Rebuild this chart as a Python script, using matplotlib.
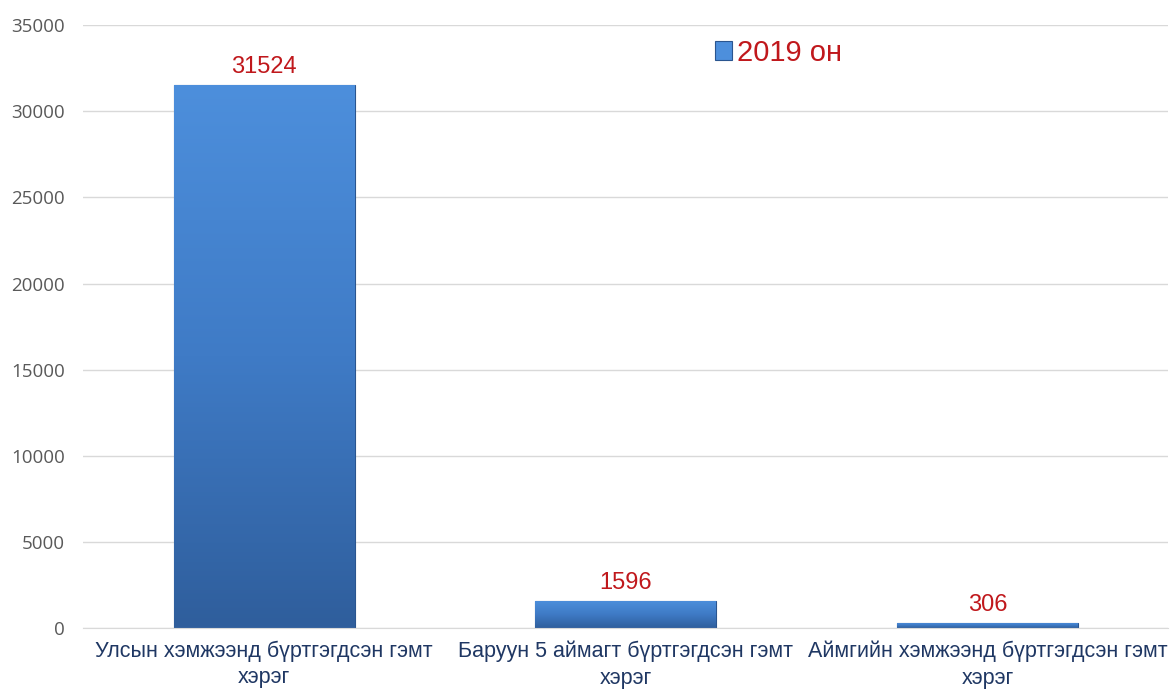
import numpy as np
import matplotlib.pyplot as plt
from matplotlib.colors import LinearSegmentedColormap

# Data
categories = ["Улсын хэмжээнд бүртгэгдсэн гэмт\nхэрэг",
              "Баруун 5 аймагт бүртгэгдсэн гэмт\nхэрэг",
              "Аймгийн хэмжээнд бүртгэгдсэн гэмт\nхэрэг"]
values = [31524, 1596, 306]
series_name = "2019 он"
y_ticks = [0, 5000, 10000, 15000, 20000, 25000, 30000, 35000]

bar_top = "#4d8fdc"
bar_bottom = "#2f5e9c"
label_red = "#c0181c"
cat_color = "#1f3763"

fig = plt.figure(figsize=(11.72, 6.89), dpi=100)
ax = fig.add_axes([0.071, 0.0885, 0.926, 0.875])

x = np.arange(len(categories))
bars = ax.bar(x, values, width=0.5, color=bar_top, edgecolor="#2a558f",
              linewidth=0.8, label=series_name, zorder=2)

# vertical gradient on each bar
cmap = LinearSegmentedColormap.from_list("g", [bar_bottom, "#3f7bc6", bar_top])
grad = np.linspace(0, 1, 256).reshape(-1, 1)
for b in bars:
    x0, y0 = b.get_x(), b.get_y()
    w, h = b.get_width(), b.get_height()
    im = ax.imshow(grad, extent=[x0, x0 + w, y0, y0 + h], origin="lower",
                   cmap=cmap, aspect="auto", zorder=2)
    im.set_clip_path(b)

for xi, v in zip(x, values):
    ax.text(xi, v + 400, str(v), ha="center", va="bottom", fontsize=17,
            color=label_red, family="Liberation Sans")

ax.set_xlim(-0.5, len(categories) - 0.5)
ax.set_ylim(0, 35000)
ax.set_yticks(y_ticks)
ax.set_yticklabels([str(t) for t in y_ticks], fontsize=13.5, color="#595959",
                   family="Open Sans")
ax.set_xticks(x)
ax.set_xticklabels(categories, fontsize=15.5, color=cat_color,
                   family="Liberation Sans", linespacing=1.35)
ax.tick_params(axis="both", length=0)
ax.tick_params(axis="y", pad=13)
ax.tick_params(axis="x", pad=9)
ax.grid(axis="y", color="#d9d9d9", linewidth=1, zorder=0)
ax.set_axisbelow(True)
for s in ["top", "right", "left"]:
    ax.spines[s].set_visible(False)
ax.spines["bottom"].set_color("#d9d9d9")

leg = ax.legend(loc="center left", bbox_to_anchor=(0.582, 0.954), frameon=False,
                handlelength=0.6, handleheight=0.6, handletextpad=0.15,
                borderpad=0, borderaxespad=0,
                prop={"family": "Liberation Sans", "size": 21})
for t in leg.get_texts():
    t.set_color(label_red)

fig.savefig("out.png", dpi=100)
